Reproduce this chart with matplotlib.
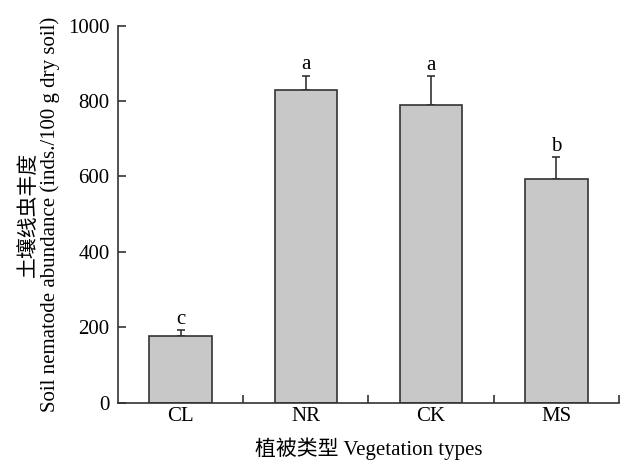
import matplotlib
matplotlib.use("Agg")
import matplotlib.pyplot as plt
import numpy as np

categories = ["CL", "NR", "CK", "MS"]
values = [177, 829, 789, 593]
errors = [16, 38, 77, 58]
letters = ["c", "a", "a", "b"]
yticks = [0, 200, 400, 600, 800, 1000]

plt.rcParams['font.family'] = ['Liberation Serif', 'Noto Sans CJK SC']
plt.rcParams['font.size'] = 15

fig = plt.figure(figsize=(6.27, 4.61), dpi=100)
ax = fig.add_axes([0.1882, 0.1265, 0.7990, 0.8178])

x = np.arange(len(categories))
ax.bar(x, values, width=0.5, color="#c8c8c8", edgecolor="#333333", linewidth=1.2, zorder=2)
ax.errorbar(x, values, yerr=[np.zeros(len(errors)), errors], fmt="none",
            ecolor="#333333", elinewidth=1.2, capsize=3, capthick=1.2, zorder=1)
for xi, v, e, l in zip(x, values, errors, letters):
    ax.annotate(l, (xi, v + e), xytext=(0, 1), textcoords="offset points",
                ha="center", va="bottom", fontsize=15)

ax.set_xlim(-0.5, 3.5)
ax.set_ylim(0, 1000)
ax.set_yticks(yticks)
ax.set_xticks(x)
ax.set_xticklabels(categories)
ax.set_xticks(np.arange(0.5, 4.0, 1.0), minor=True)
ax.tick_params(axis="x", which="major", length=0, pad=3)
ax.tick_params(axis="x", which="minor", direction="in", length=6, width=1.2, color="#333333")
ax.tick_params(axis="y", direction="in", length=6, width=1.2, color="#333333", pad=6)
for s in ["top", "right"]:
    ax.spines[s].set_visible(False)
for s in ["left", "bottom"]:
    ax.spines[s].set_linewidth(1.2)
    ax.spines[s].set_color("#333333")

ax.set_ylabel("土壤线虫丰度\nSoil nematode abundance (inds./100 g dry soil)",
              fontsize=15, linespacing=1.05, labelpad=6)
ax.set_xlabel("植被类型 Vegetation types", fontsize=15, labelpad=8.5)

fig.savefig("out.png", dpi=100)
